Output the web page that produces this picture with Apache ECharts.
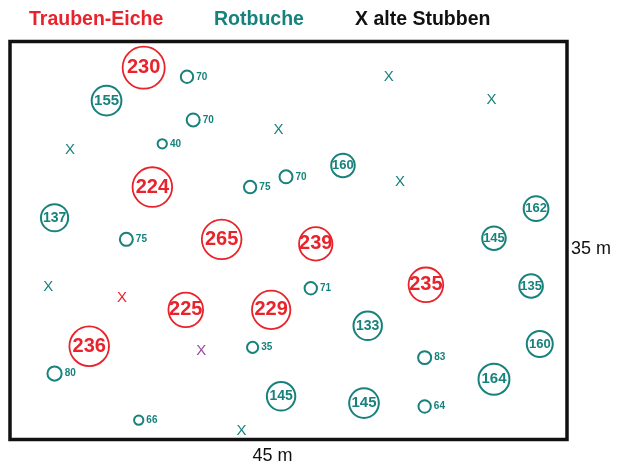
<!DOCTYPE html>
<html>
<head>
<meta charset="utf-8">
<script src="https://cdn.jsdelivr.net/npm/echarts@6/dist/echarts.min.js"></script>
<style>
  html, body { margin: 0; padding: 0; background: #fff; }
  #main { width: 617px; height: 467px; }
</style>
</head>
<body>
<div id="main"></div>
<script>
// plot is 45 m x 35 m, positions in metres from the lower left corner
// [x, y, crown diameter (m), girth label]
const oaks = [
    [10.8, 32.7, 3.4, 230],
    [11.5, 22.2, 3.2, 224],
    [17.1, 17.6, 3.2, 265],
    [24.7, 17.2, 2.7, 239],
    [33.6, 13.6, 2.8, 235],
    [14.2, 11.4, 2.8, 225],
    [21.1, 11.4, 3.1, 229],
    [6.4, 8.2, 3.2, 236]
];

const beeches = [
    [7.8, 29.8, 2.4, 155],
    [3.6, 19.5, 2.2, 137],
    [26.9, 24.1, 1.9, 160],
    [42.5, 20.3, 2.0, 162],
    [39.1, 17.7, 1.9, 145],
    [42.1, 13.5, 1.9, 135],
    [28.9, 10.0, 2.3, 133],
    [42.8, 8.4, 2.1, 160],
    [39.1, 5.3, 2.5, 164],
    [28.6, 3.2, 2.4, 145],
    [21.9, 3.8, 2.3, 145],
    [14.3, 31.9, 1.0, 70],
    [14.8, 28.1, 1.05, 70],
    [12.3, 26.0, 0.75, 40],
    [19.4, 22.2, 1.0, 75],
    [22.3, 23.1, 1.05, 70],
    [9.4, 17.6, 1.05, 75],
    [24.3, 13.3, 1.0, 71],
    [3.6, 5.8, 1.15, 80],
    [19.6, 8.1, 0.9, 35],
    [10.4, 1.7, 0.75, 66],
    [33.5, 7.2, 1.05, 83],
    [33.5, 2.9, 1.0, 64]
];

// old stumps [x, y]
const stumpsBeech = [
    [4.85, 25.5], [21.7, 27.2], [30.6, 31.9], [38.9, 29.9],
    [31.5, 22.7], [3.1, 13.4], [18.7, 0.75]
];
const stumpsOak = [[9.05, 12.45]];
const stumpsOther = [[15.45, 7.8]];

const legendTexts = ['Trauben-Eiche', 'Rotbuche', 'X alte Stubben'];

const RED = '#e8232b';
const TEAL = '#17827c';
const PURPLE = '#9a4a9c';
const FONT = '"Liberation Sans", Arial, sans-serif';

const grid = { left: 10, right: 50, top: 41.5, bottom: 27.5 };
const pxPerM = (617 - grid.left - grid.right) / 45;

function stumpSeries(data, color) {
    return {
        type: 'scatter',
        data: data,
        symbol: 'circle',
        symbolSize: 1,
        silent: true,
        itemStyle: { color: 'rgba(0,0,0,0)', opacity: 1 },
        label: {
            show: true,
            position: 'inside',
            formatter: 'X',
            color: color,
            fontFamily: FONT,
            fontSize: 15,
            fontWeight: 'normal'
        }
    };
}

let myChart = echarts.init(document.getElementById('main'));

let option = {
    animation: false,
    grid: {
        left: grid.left, right: grid.right, top: grid.top, bottom: grid.bottom,
        outerBoundsMode: 'none',
        show: true,
        borderColor: '#111',
        borderWidth: 3.5,
        backgroundColor: '#fff'
    },
    xAxis: {
        type: 'value', min: 0, max: 45,
        axisLine: { show: false }, axisTick: { show: false },
        axisLabel: { show: false }, splitLine: { show: false },
        name: '45 m', nameLocation: 'middle', nameGap: 8,
        nameTextStyle: {
            color: '#111', fontFamily: FONT, fontSize: 18,
            verticalAlign: 'top', padding: [0, 32, 0, 0]
        }
    },
    yAxis: {
        type: 'value', min: 0, max: 35, position: 'right',
        axisLine: { show: false }, axisTick: { show: false },
        axisLabel: { show: false }, splitLine: { show: false }
    },
    graphic: [
        { type: 'text', left: 29, top: 10, style: { text: legendTexts[0], fill: RED, font: 'bold 19.5px ' + FONT } },
        { type: 'text', left: 214, top: 10, style: { text: legendTexts[1], fill: TEAL, font: 'bold 19.5px ' + FONT } },
        { type: 'text', left: 355, top: 10, style: { text: legendTexts[2], fill: '#111', font: 'bold 19.5px ' + FONT } },
        { type: 'text', left: 571, top: 240, style: { text: '35 m', fill: '#111', font: '18px ' + FONT } }
    ],
    series: [
        {
            name: 'Trauben-Eiche',
            type: 'scatter',
            data: oaks,
            symbol: 'circle',
            symbolSize: (v) => v[2] * pxPerM,
            itemStyle: { color: 'rgba(255,255,255,0)', borderColor: RED, borderWidth: 1.8, opacity: 1 },
            label: {
                show: true,
                position: 'inside',
                formatter: (p) => p.value[3],
                color: RED,
                fontFamily: FONT,
                fontWeight: 'bold',
                fontSize: 20
            }
        },
        {
            name: 'Rotbuche',
            type: 'scatter',
            data: beeches.map((b) => {
                const big = b[2] >= 1.5;
                return {
                    value: b,
                    label: big
                        ? { position: 'inside', fontSize: Math.round(Math.min(15, Math.max(12.5, b[2] * pxPerM * 0.5))) }
                        : { position: 'right', distance: 2, fontSize: 10 }
                };
            }),
            symbol: 'circle',
            symbolSize: (v) => v[2] * pxPerM,
            itemStyle: { color: 'rgba(255,255,255,0)', borderColor: TEAL, borderWidth: 2, opacity: 1 },
            label: {
                show: true,
                formatter: (p) => p.value[3],
                color: TEAL,
                fontFamily: FONT,
                fontWeight: 'bold'
            }
        },
        stumpSeries(stumpsBeech, TEAL),
        stumpSeries(stumpsOak, RED),
        stumpSeries(stumpsOther, PURPLE)
    ]
};

myChart.setOption(option);
</script>
</body>
</html>
